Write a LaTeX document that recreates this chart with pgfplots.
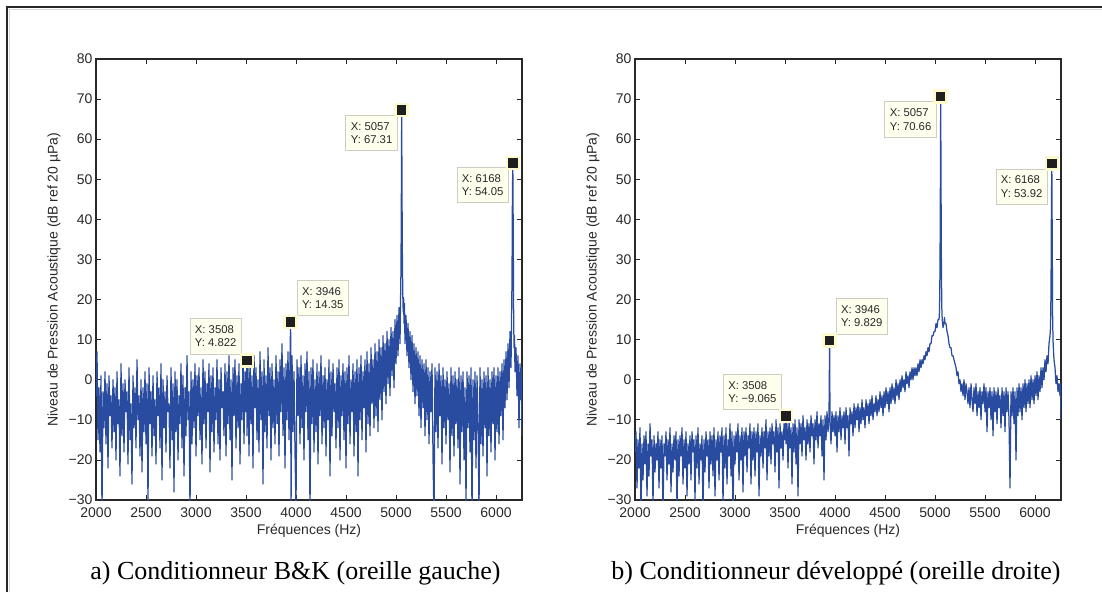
\documentclass[border=0pt]{standalone}
\usepackage{fontspec}
\setmainfont{Liberation Sans}
\newfontfamily\capfont{Liberation Serif}
\usepackage{pgfplots}
\usepackage{pgfplotstable}
\pgfplotsset{compat=1.18}

\definecolor{specblue}{RGB}{42,76,160}
\definecolor{tipfill}{RGB}{255,255,238}
\definecolor{tipedge}{RGB}{205,205,195}
\definecolor{tipmark}{RGB}{255,250,205}
\definecolor{axgray}{RGB}{40,40,40}

% Spectre, conditionneur B&K (oreille gauche)
\pgfplotstableread[row sep=\\]{
x y\\
2000 -4\\2010 7\\2020 -15\\2030 -2\\2040 -18\\2050 1\\2060 -33\\2070 -3\\2080 -12\\2090 2\\
2100 -16\\2110 -1\\2120 -22\\2130 1\\2140 -9\\2150 -4\\2160 -17\\2170 0\\2180 -13\\2190 -2\\
2200 -20\\2210 2\\2220 -11\\2230 -5\\2240 -24\\2250 4\\2260 -14\\2270 -1\\2280 -18\\2290 0\\
2300 -8\\2310 -3\\2320 -21\\2330 3\\2340 -15\\2350 -6\\2360 -26\\2370 1\\2380 -12\\2390 -2\\
2400 -17\\2410 5\\2420 -10\\2430 -4\\2440 -19\\2450 0\\2460 -23\\2470 -2\\2480 -13\\2490 2\\
2500 -16\\2510 -1\\2520 -31\\2530 3\\2540 -11\\2550 -3\\2560 -19\\2570 1\\2580 -14\\2590 -5\\
2600 -21\\2610 2\\2620 -9\\2630 -2\\2640 -17\\2650 4\\2660 -25\\2670 0\\2680 -12\\2690 -3\\
2700 -18\\2710 1\\2720 -8\\2730 -6\\2740 -22\\2750 3\\2760 -15\\2770 -1\\2780 -28\\2790 2\\
2800 -13\\2810 0\\2820 -20\\2830 -4\\2840 -11\\2850 4\\2860 -17\\2870 1\\2880 -24\\2890 -2\\
2900 -14\\2910 6\\2920 -10\\2930 -3\\2940 -33\\2950 2\\2960 -16\\2970 0\\2980 -12\\2990 4\\
3000 -19\\3010 1\\3020 -9\\3030 3\\3040 -15\\3050 -2\\3060 -21\\3070 5\\3080 -11\\3090 2\\
3100 -17\\3110 -1\\3120 -8\\3130 4\\3140 -23\\3150 1\\3160 -13\\3170 3\\3180 -18\\3190 -2\\
3200 -10\\3210 5\\3220 -16\\3230 0\\3240 -20\\3250 3\\3260 -7\\3270 -3\\3280 -14\\3290 4\\
3300 -19\\3310 2\\3320 -11\\3330 6\\3340 -15\\3350 0\\3360 -25\\3370 3\\3380 -9\\3390 5\\
3400 -17\\3410 1\\3420 -12\\3430 4\\3440 -21\\3450 -1\\3460 -10\\3470 6\\3480 -16\\3490 2\\
3500 -8\\3508 4.822\\3510 -14\\3520 3\\3530 -19\\3540 5\\3550 -11\\3560 1\\3570 -22\\3580 6\\3590 -7\\
3600 3\\3610 -15\\3620 0\\3630 -18\\3640 7\\3650 -10\\3660 2\\3670 -26\\3680 5\\3690 -13\\
3700 1\\3710 -17\\3720 8\\3730 -9\\3740 3\\3750 -20\\3760 4\\3770 -12\\3780 0\\3790 -16\\
3800 6\\3810 -11\\3820 2\\3830 -19\\3840 5\\3850 -8\\3860 9\\3870 -14\\3880 3\\3890 -22\\
3900 4\\3910 -10\\3920 7\\3930 -15\\3940 5\\3946 14.35\\3950 -34\\3960 6\\3970 -13\\3980 2\\3990 -18\\
4000 -32\\4010 5\\4020 -9\\4030 3\\4040 -16\\4050 6\\4060 -12\\4070 1\\4080 -20\\4090 4\\
4100 -8\\4110 7\\4120 -15\\4130 2\\4140 -33\\4150 3\\4160 -11\\4170 5\\4180 -18\\4190 0\\
4200 -13\\4210 4\\4220 -21\\4230 2\\4240 -9\\4250 6\\4260 -16\\4270 1\\4280 -12\\4290 3\\
4300 -19\\4310 0\\4320 -10\\4330 5\\4340 -24\\4350 2\\4360 -14\\4370 4\\4380 -8\\4390 -1\\
4400 -17\\4410 3\\4420 -12\\4430 5\\4440 -20\\4450 1\\4460 -9\\4470 4\\4480 -15\\4490 2\\
4500 -22\\4510 3\\4520 -11\\4530 6\\4540 -16\\4550 0\\4560 -8\\4570 4\\4580 -19\\4590 2\\
4600 -13\\4610 5\\4620 -24\\4630 3\\4640 -10\\4650 6\\4660 -15\\4670 2\\4680 -7\\4690 5\\
4700 -18\\4710 7\\4720 -11\\4730 4\\4740 -14\\4750 8\\4760 -6\\4770 5\\4780 -12\\4790 9\\
4800 -9\\4810 7\\4820 -13\\4830 10\\4840 -5\\4850 8\\4860 -10\\4870 11\\4880 -3\\4890 9\\
4900 -6\\4910 12\\4920 -1\\4930 10\\4940 -4\\4950 13\\4960 1\\4970 12\\4980 -2\\4990 15\\
5000 4\\5010 16\\5020 6\\5030 18\\5040 9\\5045 19\\5050 28\\5054 48\\5057 67.31\\5060 47\\5064 30\\5068 21\\5072 17\\5076 20.5\\5080 14\\5085 19\\5090 9\\
5100 16\\5110 6\\5120 14\\5130 3\\5140 12\\5150 0\\5160 11\\5170 -3\\5180 9\\5190 -6\\
5200 8\\5210 -4\\5220 7\\5230 -9\\5240 6\\5250 -12\\5260 5\\5270 -7\\5280 4\\5290 -14\\
5300 5\\5310 -10\\5320 3\\5330 -16\\5340 2\\5350 -8\\5360 4\\5370 -19\\5380 -35\\5390 3\\
5400 -13\\5410 2\\5420 -17\\5430 4\\5440 -9\\5450 1\\5460 -21\\5470 3\\5480 -12\\5490 0\\
5500 -16\\5510 2\\5520 -10\\5530 -1\\5540 -23\\5550 3\\5560 -14\\5570 1\\5580 -19\\5590 2\\
5600 -11\\5610 0\\5620 -17\\5630 3\\5640 -26\\5650 1\\5660 -13\\5670 2\\5680 -20\\5690 -2\\
5700 -31\\5710 2\\5720 -12\\5730 1\\5740 -18\\5750 3\\5760 -34\\5770 0\\5780 -15\\5790 2\\
5800 -22\\5810 1\\5820 -10\\5830 -33\\5840 3\\5850 -16\\5860 0\\5870 -19\\5880 2\\5890 -12\\
5900 1\\5910 -24\\5920 3\\5930 -14\\5940 0\\5950 -18\\5960 2\\5970 -11\\5980 3\\5990 -20\\
6000 1\\6010 -13\\6020 3\\6030 -16\\6040 2\\6050 -9\\6060 4\\6070 -15\\6080 5\\6090 -7\\
6100 7\\6110 -5\\6120 9\\6130 -2\\6140 12\\6150 3\\6155 14\\6160 25\\6164 45\\6168 54.05\\6172 38\\6176 18\\6180 8\\6185 11\\6190 2\\
6200 8\\6210 -4\\6220 6\\6230 -12\\6240 4\\6250 -5\\6255 3\\6260 -14\\
}\leftdata

% Spectre, conditionneur développé (oreille droite)
\pgfplotstableread[row sep=\\]{
x y\\
2000 -18\\2010 -13\\2020 -27\\2030 -15\\2040 -22\\2050 -12\\2060 -33\\2070 -16\\2080 -25\\2090 -14\\
2100 -21\\2110 -13\\2120 -29\\2130 -16\\2140 -24\\2150 -11\\2160 -19\\2170 -15\\2180 -31\\2190 -14\\
2200 -23\\2210 -16\\2220 -20\\2230 -13\\2240 -27\\2250 -15\\2260 -22\\2270 -14\\2280 -34\\2290 -16\\
2300 -19\\2310 -13\\2320 -25\\2330 -15\\2340 -21\\2350 -12\\2360 -28\\2370 -16\\2380 -23\\2390 -14\\
2400 -20\\2410 -13\\2420 -32\\2430 -15\\2440 -24\\2450 -14\\2460 -19\\2470 -12\\2480 -26\\2490 -15\\
2500 -22\\2510 -13\\2520 -29\\2530 -16\\2540 -21\\2550 -14\\2560 -25\\2570 -13\\2580 -18\\2590 -15\\
2600 -30\\2610 -14\\2620 -22\\2630 -12\\2640 -26\\2650 -16\\2660 -20\\2670 -14\\2680 -33\\2690 -15\\
2700 -23\\2710 -13\\2720 -19\\2730 -15\\2740 -27\\2750 -13\\2760 -21\\2770 -14\\2780 -24\\2790 -12\\
2800 -29\\2810 -15\\2820 -20\\2830 -13\\2840 -25\\2850 -14\\2860 -18\\2870 -12\\2880 -31\\2890 -14\\
2900 -22\\2910 -12\\2920 -26\\2930 -15\\2940 -19\\2950 -11\\2960 -24\\2970 -13\\2980 -34\\2990 -14\\
3000 -21\\3010 -13\\3020 -18\\3030 -11\\3040 -25\\3050 -14\\3060 -20\\3070 -12\\3080 -28\\3090 -13\\
3100 -19\\3110 -12\\3120 -23\\3130 -14\\3140 -17\\3150 -11\\3160 -26\\3170 -13\\3180 -20\\3190 -12\\
3200 -24\\3210 -13\\3220 -18\\3230 -11\\3240 -29\\3250 -14\\3260 -19\\3270 -12\\3280 -22\\3290 -13\\
3300 -17\\3310 -10\\3320 -25\\3330 -13\\3340 -19\\3350 -12\\3360 -21\\3370 -11\\3380 -16\\3390 -13\\
3400 -23\\3410 -10\\3420 -18\\3430 -12\\3440 -27\\3450 -11\\3460 -17\\3470 -13\\3480 -20\\3490 -11\\
3500 -15\\3508 -9.065\\3510 -16\\3520 -11\\3530 -22\\3540 -10\\3550 -17\\3560 -12\\3570 -26\\3580 -11\\3590 -18\\
3600 -10\\3610 -21\\3620 -12\\3630 -29\\3640 -10\\3650 -16\\3660 -11\\3670 -19\\3680 -9\\3690 -15\\
3700 -12\\3710 -20\\3720 -10\\3730 -16\\3740 -11\\3750 -18\\3760 -9\\3770 -14\\3780 -11\\3790 -21\\
3800 -10\\3810 -15\\3820 -8\\3830 -17\\3840 -11\\3850 -14\\3860 -9\\3870 -19\\3880 -10\\3890 -25\\
3900 -9\\3910 -15\\3920 -8\\3930 -13\\3940 -9\\3946 9.829\\3950 -10\\3960 -16\\3970 -8\\3980 -13\\3990 -9\\
4000 -14\\4010 -8\\4020 -18\\4030 -9\\4040 -13\\4050 -7\\4060 -15\\4070 -9\\4080 -12\\4090 -8\\
4100 -16\\4110 -7\\4120 -12\\4130 -9\\4140 -19\\4150 -7\\4160 -11\\4170 -8\\4180 -14\\4190 -6\\
4200 -12\\4210 -7\\4220 -10\\4230 -6\\4240 -13\\4250 -7\\4260 -11\\4270 -5\\4280 -10\\4290 -7\\
4300 -12\\4310 -5\\4320 -9\\4330 -6\\4340 -11\\4350 -5\\4360 -9\\4370 -4\\4380 -10\\4390 -6\\
4400 -8\\4410 -4\\4420 -9\\4430 -5\\4440 -8\\4450 -3\\4460 -7\\4470 -4\\4480 -9\\4490 -3\\
4500 -7\\4510 -2\\4520 -6\\4530 -3\\4540 -8\\4550 -2\\4560 -6\\4570 -1\\4580 -5\\4590 -2\\
4600 -6\\4610 0\\4620 -4\\4630 -1\\4640 -5\\4650 0\\4660 -3\\4670 1\\4680 -2\\4690 0\\
4700 -3\\4710 2\\4720 -1\\4730 1\\4740 -2\\4750 2\\4760 0\\4770 3\\4780 0\\4790 3\\
4800 1\\4810 3\\4820 1\\4830 4\\4840 2\\4850 5\\4860 3\\4870 5\\4880 4\\4890 6\\
4900 5\\4910 7\\4920 6\\4930 8\\4940 7\\4950 9\\4960 9\\4970 11\\4980 11\\4990 12\\
5000 12\\5010 14\\5020 13\\5030 15\\5040 15\\5045 17\\5050 28\\5054 50\\5057 70.66\\5060 50\\5064 28\\5068 18\\5072 15\\5080 13\\5090 14\\5095 15.5\\5100 14\\
5110 14\\5120 12\\5130 11\\5140 9\\5150 8\\5160 8\\5170 6\\5180 6\\5190 5\\
5200 4\\5210 3\\5220 1\\5230 2\\5240 -1\\5250 0\\5260 -3\\5270 -1\\5280 -4\\5290 0\\
5300 -5\\5310 -1\\5320 -3\\5330 -6\\5340 -2\\5350 -7\\5360 -1\\5370 -5\\5380 -8\\5390 -2\\
5400 -6\\5410 -1\\5420 -9\\5430 -3\\5440 -7\\5450 -2\\5460 -10\\5470 -3\\5480 -6\\5490 -1\\
5500 -8\\5510 -2\\5520 -13\\5530 -3\\5540 -7\\5550 -2\\5560 -10\\5570 -3\\5580 -14\\5590 -2\\
5600 -8\\5610 -3\\5620 -11\\5630 -2\\5640 -7\\5650 -4\\5660 -12\\5670 -2\\5680 -9\\5690 -3\\
5700 -13\\5710 -2\\5720 -8\\5730 -3\\5740 -10\\5750 -27\\5760 -3\\5770 -9\\5780 -2\\5790 -11\\
5800 -3\\5810 -20\\5820 -2\\5830 -9\\5840 -1\\5850 -8\\5860 -2\\5870 -10\\5880 -1\\5890 -7\\
5900 0\\5910 -8\\5920 -1\\5930 -6\\5940 0\\5950 -7\\5960 1\\5970 -5\\5980 0\\5990 -6\\
6000 1\\6010 -4\\6020 2\\6030 -5\\6040 1\\6050 -3\\6060 3\\6070 -2\\6080 3\\6090 0\\
6100 5\\6110 2\\6120 6\\6130 4\\6140 9\\6150 11\\6155 13\\6160 22\\6164 42\\6168 53.92\\6172 36\\6176 16\\6180 10\\6185 7\\6190 5\\
6200 3\\6210 -1\\6220 1\\6230 -3\\6240 -1\\6250 -4\\6255 -1\\6260 -10\\
}\rightdata

\pgfplotsset{
  specaxis/.style={
    scale only axis, width=426pt, height=441pt,
    xmin=2000, xmax=6260, ymin=-30, ymax=80,
    xtick={2000,2500,...,6000},
    xticklabels={2000,2500,3000,3500,4000,4500,5000,5500,6000},
    ytick={-30,-20,...,80},
    yticklabels={−30,−20,−10,0,10,20,30,40,50,60,70,80},
    tick align=inside, tick pos=both,
    major tick length=5pt,
    axis line style={axgray, line width=1.2pt},
    tick style={axgray, line width=0.8pt},
    ticklabel style={font=\fontsize{14}{16}\selectfont, text=axgray},
    xticklabel style={anchor=base, yshift=-17pt},
    label style={font=\fontsize{14}{16}\selectfont, text=axgray},
    xlabel={Fréquences (Hz)},
    ylabel={Niveau de Pression Acoustique (dB ref 20 µPa)},
    xlabel style={at={(axis description cs:0.5,-0.0771)}, anchor=base},
    ylabel style={at={(axis description cs:-0.0986,0.5)}, anchor=center},
  },
  spectrum/.style={specblue, line width=1.25pt, line join=round, mark=none},
  tipmarks/.style={only marks, mark=square*, mark size=6pt,
    mark options={fill=black!88, draw=tipmark, line width=2.5pt}},
}
\tikzset{
  datatip/.style={draw=tipedge, fill=tipfill, text=axgray, align=left,
    inner xsep=5pt, inner ysep=7pt, line width=0.8pt,
    font=\fontsize{11.3}{13.3}\selectfont},
}

\begin{document}
\begin{tikzpicture}[x=1pt,y=1pt]
\useasboundingbox (0,0) rectangle (1102,592);
\draw[gray!30, line width=0.8pt] (9.5,0) -- (9.5,582.5) -- (1102,582.5);
\draw[axgray, line width=2pt] (7,0) -- (7,585) -- (1102,585);

% a) oreille gauche
\begin{axis}[specaxis, at={(96pt,92pt)}, anchor=south west]
\addplot[spectrum] table[x=x, y=y] {\leftdata};
\addplot[tipmarks] coordinates {(3508,4.822) (3946,14.35) (5057,67.31) (6168,54.05)};
\node[datatip, anchor=south east, xshift=-5pt, yshift=6pt] at (axis cs:3508,4.822) {X: 3508\\Y: 4.822};
\node[datatip, anchor=south west, xshift=6pt, yshift=6pt] at (axis cs:3946,14.35) {X: 3946\\Y: 14.35};
\node[datatip, anchor=north east, xshift=-4pt, yshift=-5pt] at (axis cs:5057,67.31) {X: 5057\\Y: 67.31};
\node[datatip, anchor=north east, xshift=-4pt, yshift=-4pt] at (axis cs:6168,54.05) {X: 6168\\Y: 54.05};
\end{axis}

% b) oreille droite
\begin{axis}[specaxis, at={(635pt,92pt)}, anchor=south west]
\addplot[spectrum] table[x=x, y=y] {\rightdata};
\addplot[tipmarks] coordinates {(3508,-9.065) (3946,9.829) (5057,70.66) (6168,53.92)};
\node[datatip, anchor=south east, xshift=-4pt, yshift=6pt] at (axis cs:3508,-9.065) {X: 3508\\Y: −9.065};
\node[datatip, anchor=south west, xshift=6pt, yshift=6pt] at (axis cs:3946,9.829) {X: 3946\\Y: 9.829};
\node[datatip, anchor=north east, xshift=-4pt, yshift=-5pt] at (axis cs:5057,70.66) {X: 5057\\Y: 70.66};
\node[datatip, anchor=north east, xshift=-4pt, yshift=-5pt] at (axis cs:6168,53.92) {X: 6168\\Y: 53.92};
\end{axis}

\node[anchor=base, font=\capfont\fontsize{26}{30}\selectfont] at (295.5,13) {a) Conditionneur B\&K (oreille gauche)};
\node[anchor=base, font=\capfont\fontsize{26}{30}\selectfont] at (836,13) {b) Conditionneur développé (oreille droite)};
\end{tikzpicture}
\end{document}
